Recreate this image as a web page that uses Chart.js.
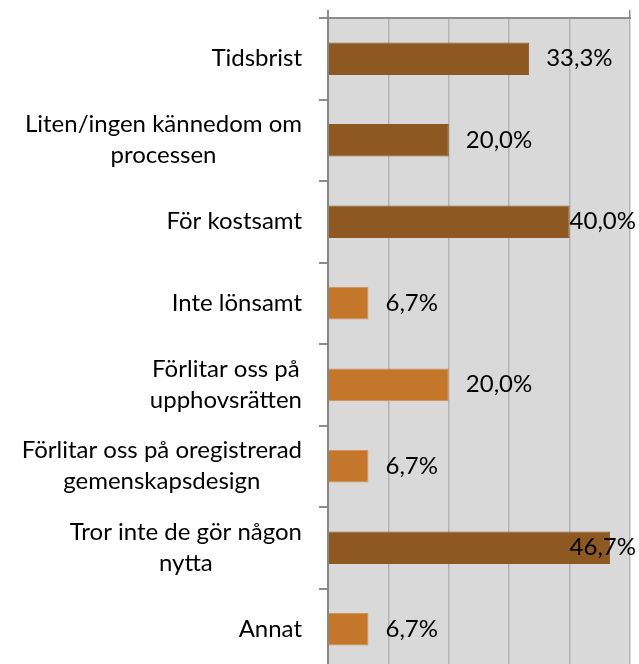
<!DOCTYPE html>
<html>
<head>
<meta charset="utf-8">
<script src="https://cdn.jsdelivr.net/npm/chart.js@4"></script>
<style>
  html, body { margin: 0; padding: 0; background: #ffffff; overflow: hidden; }
  #wrap { width: 639px; height: 664px; overflow: hidden; }
</style>
</head>
<body>
<div id="wrap"><canvas id="c" width="639" height="680"></canvas></div>
<script>
const categories = [
  ['Tidsbrist'],
  ['Liten/ingen kännedom om', 'processen'],
  ['För kostsamt'],
  ['Inte lönsamt'],
  ['Förlitar oss på', 'upphovsrätten'],
  ['Förlitar oss på oregistrerad', 'gemenskapsdesign'],
  ['Tror inte de gör någon', 'nytta'],
  ['Annat']
];
const values = [33.3, 20.0, 40.0, 6.7, 20.0, 6.7, 46.7, 6.7];
const barColors = ['#8E5822', '#8E5822', '#8E5822', '#C4762A', '#C4762A', '#C4762A', '#8E5822', '#C4762A'];
const axisMin = 0;
const axisMax = 50;
const axisStep = 10;

const FONT = '24px Lato, "Open Sans", sans-serif';

const plotBg = {
  id: 'plotBg',
  beforeDraw(chart) {
    const a = chart.chartArea, ctx = chart.ctx;
    ctx.save();
    ctx.fillStyle = '#D9D9D9';
    ctx.fillRect(a.left, a.top, a.right - a.left, a.bottom - a.top);
    ctx.restore();
  }
};

const catLabels = {
  id: 'catLabels',
  afterDraw(chart) {
    const ctx = chart.ctx, ys = chart.scales.y;
    ctx.save();
    ctx.font = FONT;
    ctx.fillStyle = '#000000';
    ctx.textAlign = 'center';
    ctx.textBaseline = 'middle';
    const lh = 31;
    const rightEdge = 302;
    categories.forEach((lines, i) => {
      const cy = ys.getPixelForValue(i);
      let w = 0;
      lines.forEach(l => { w = Math.max(w, ctx.measureText(l).width); });
      const cx = rightEdge - w / 2;
      const y0 = cy - (lines.length - 1) * lh / 2;
      lines.forEach((l, k) => ctx.fillText(l, cx, y0 + k * lh));
    });
    ctx.restore();
  }
};

const valueLabels = {
  id: 'valueLabels',
  afterDatasetsDraw(chart) {
    const ctx = chart.ctx;
    const meta = chart.getDatasetMeta(0);
    ctx.save();
    ctx.font = FONT;
    ctx.fillStyle = '#000000';
    ctx.textAlign = 'left';
    ctx.textBaseline = 'middle';
    meta.data.forEach((bar, i) => {
      const txt = values[i].toFixed(1).replace('.', ',') + '%';
      const w = ctx.measureText(txt).width;
      const x = Math.min(bar.x + 17, 636 - w);
      ctx.fillText(txt, x, bar.y);
    });
    ctx.restore();
  }
};

new Chart(document.getElementById('c'), {
  type: 'bar',
  data: {
    labels: categories,
    datasets: [{
      data: values,
      backgroundColor: barColors,
      borderColor: barColors.map(c => c === '#C4762A' ? '#D29458' : c),
      borderWidth: 1,
      barPercentage: 0.4,
      categoryPercentage: 1.0
    }]
  },
  options: {
    indexAxis: 'y',
    responsive: false,
    animation: false,
    layout: { padding: { left: 0, right: 9, top: 0, bottom: 10 } },
    plugins: {
      legend: { display: false },
      tooltip: { enabled: false },
      title: { display: false }
    },
    scales: {
      x: {
        position: 'top',
        min: axisMin,
        max: axisMax,
        ticks: { display: false, stepSize: axisStep },
        grid: {
          color: ctx => ctx.index === 0 ? '#868686' : '#B3B3B3',
          lineWidth: ctx => ctx.index === 0 ? 2 : 1.5,
          drawTicks: true,
          tickLength: 8,
          tickColor: ctx => (ctx.index === 0 || ctx.index === 5) ? '#8C8C8C' : 'rgba(0,0,0,0)'
        },
        border: { display: true, color: '#8C8C8C', width: 2 },
        afterFit(scale) { scale.height = 18; }
      },
      y: {
        position: 'left',
        ticks: { display: false },
        grid: {
          drawOnChartArea: false,
          drawTicks: true,
          tickLength: 9,
          offset: true,
          color: '#8C8C8C',
          lineWidth: 2
        },
        border: { display: true, color: '#868686', width: 2 },
        afterFit(scale) { scale.width = 328; }
      }
    }
  },
  plugins: [plotBg, valueLabels, catLabels]
});
</script>
</body>
</html>
